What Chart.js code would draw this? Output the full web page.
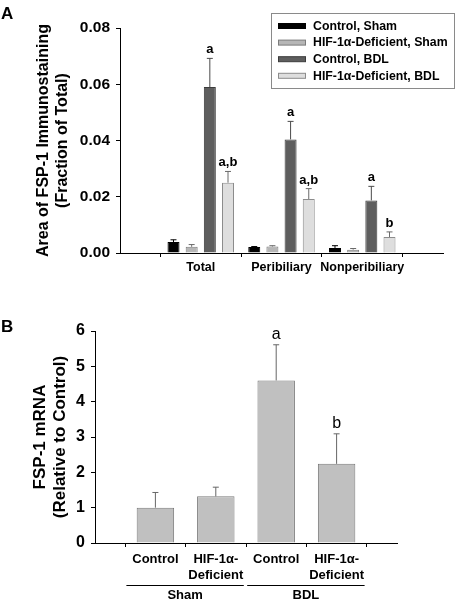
<!DOCTYPE html>
<html lang="en">
<head>
<meta charset="UTF-8">
<title>FSP-1</title>
<style>
  body { margin: 0; background: #fff; }
  .painel { position: absolute; left: 0; }
</style>
</head>
<body>
<canvas id="graficoA" class="painel" style="top:0" width="456" height="300"></canvas>
<canvas id="graficoB" class="painel" style="top:300px" width="456" height="300"></canvas>

<script src="https://cdn.jsdelivr.net/npm/chart.js"></script>
<script>
// ---- panel A data ----
const regions = ['Total', 'Peribiliary', 'Nonperibiliary']
const seriesNames = ['Control, Sham', 'HIF-1α-Deficient, Sham', 'Control, BDL', 'HIF-1α-Deficient, BDL']
const controlSham = [0.0039, 0.0021, 0.0018]
const controlShamErr = [0.0008, 0.0002, 0.0008]
const hifSham = [0.0022, 0.0023, 0.0012]
const hifShamErr = [0.0008, 0.0003, 0.0004]
const controlBdl = [0.059, 0.0404, 0.0187]
const controlBdlErr = [0.0102, 0.0064, 0.005]
const hifBdl = [0.025, 0.0192, 0.0057]
const hifBdlErr = [0.004, 0.0037, 0.0018]
const lettersControlBdl = ['a', 'a', 'a']
const lettersHifBdl = ['a,b', 'a,b', 'b']
const ticksA = [0, 0.02, 0.04, 0.06, 0.08]

// ---- panel B data ----
const groupsB = ['Control', ['HIF-1α-', 'Deficient'], 'Control', ['HIF-1α-', 'Deficient']]
const treatments = ['Sham', 'BDL']
const mrna = [1.0, 1.32, 4.6, 2.24]
const mrnaErr = [0.43, 0.26, 1.01, 0.85]
const lettersB = ['', '', 'a', 'b']
const ticksB = [0, 1, 2, 3, 4, 5, 6]

Chart.defaults.font.family = "'Liberation Sans', Arial, sans-serif"
Chart.defaults.color = '#000'

// empty slot at each end of the category axis
const pad = arr => [null, ...arr, null]

const errorBars = {
  id: 'errorBars',
  afterDatasetsDraw(chart) {
    const ctx = chart.ctx
    const y = chart.scales.y
    chart.data.datasets.forEach((ds, i) => {
      const meta = chart.getDatasetMeta(i)
      meta.data.forEach((bar, j) => {
        const v = ds.data[j]
        if (v === null) return
        const top = y.getPixelForValue(v + ds.err[j])
        ctx.save()
        ctx.strokeStyle = ds.errColor
        ctx.lineWidth = 1
        ctx.beginPath()
        ctx.moveTo(bar.x, bar.y)
        ctx.lineTo(bar.x, top)
        ctx.moveTo(bar.x - 3, top)
        ctx.lineTo(bar.x + 3, top)
        ctx.stroke()
        const txt = ds.letters ? ds.letters[j] : ''
        if (txt) {
          ctx.fillStyle = '#000'
          ctx.font = ds.letterFont
          ctx.textAlign = 'center'
          ctx.textBaseline = 'alphabetic'
          ctx.fillText(txt, bar.x, top - ds.letterGap)
        }
        ctx.restore()
      })
    })
  }
}

const legendA = {
  id: 'legendA',
  afterDraw(chart) {
    const ctx = chart.ctx
    ctx.save()
    ctx.strokeStyle = '#8a8a8a'
    ctx.lineWidth = 1
    ctx.strokeRect(271.5, 13.5, 183, 75)
    ctx.font = "bold 12.3px 'Liberation Sans', Arial, sans-serif"
    ctx.textBaseline = 'middle'
    chart.data.datasets.forEach((ds, i) => {
      const ry = 26 + i * 16.6
      ctx.fillStyle = ds.backgroundColor
      ctx.fillRect(278, ry - 2.5, 28, 5)
      ctx.strokeStyle = ds.borderColor
      ctx.strokeRect(278.5, ry - 2.5, 27, 5)
      ctx.fillStyle = '#000'
      ctx.fillText(ds.label, 313, ry + 0.5)
    })
    ctx.restore()
  }
}

const fontA = size => ({ size: size, weight: 'bold' })

new Chart(document.getElementById('graficoA'), {
  type: 'bar',
  data: {
    labels: pad(regions),
    datasets: [
      { label: seriesNames[0], data: pad(controlSham), err: pad(controlShamErr), backgroundColor: '#000000', borderColor: '#000000', errColor: '#000' },
      { label: seriesNames[1], data: pad(hifSham), err: pad(hifShamErr), backgroundColor: '#b6b6b6', borderColor: '#7c7c7c', errColor: '#6a6a6a' },
      { label: seriesNames[2], data: pad(controlBdl), err: pad(controlBdlErr), backgroundColor: '#5e5e5e', borderColor: '#3c3c3c', errColor: '#4a4a4a', letters: pad(lettersControlBdl), letterFont: "bold 13px 'Liberation Sans', Arial, sans-serif", letterGap: 5 },
      { label: seriesNames[3], data: pad(hifBdl), err: pad(hifBdlErr), backgroundColor: '#dedede', borderColor: '#8c8c8c', errColor: '#6a6a6a', letters: pad(lettersHifBdl), letterFont: "bold 13px 'Liberation Sans', Arial, sans-serif", letterGap: 5 }
    ]
  },
  options: {
    responsive: false,
    animation: false,
    layout: { padding: { top: 28, right: 13, left: 0, bottom: 0 } },
    datasets: { bar: { categoryPercentage: 0.9, barPercentage: 0.66, borderWidth: 1 } },
    plugins: { legend: { display: false }, tooltip: { enabled: false } },
    scales: {
      x: {
        offset: false,
        grid: { drawOnChartArea: false, tickLength: 4, color: '#000' },
        border: { color: '#000' },
        ticks: { font: fontA(12.5), padding: 3, autoSkip: false, maxRotation: 0 },
        afterFit: s => { s.height = 47 }
      },
      y: {
        min: 0,
        max: 0.08,
        afterBuildTicks: s => { s.ticks = ticksA.map(v => ({ value: v })) },
        grid: { drawOnChartArea: false, tickLength: 4, color: '#000' },
        border: { color: '#000' },
        ticks: { font: fontA(15.5), padding: 6, callback: v => v.toFixed(2) },
        title: {
          display: true,
          text: ['Area of FSP-1 Immunostaining', '(Fraction of Total)'],
          font: { size: 16, weight: 'bold', lineHeight: 1.13 },
          padding: { top: 35 }
        },
        afterFit: s => { s.width = 120 }
      }
    }
  },
  plugins: [errorBars, legendA, {
    id: 'panelA',
    afterDraw(chart) {
      const ctx = chart.ctx
      ctx.save()
      ctx.font = "bold 17px 'Liberation Sans', Arial, sans-serif"
      ctx.fillStyle = '#000'
      ctx.textBaseline = 'alphabetic'
      ctx.fillText('A', 1, 19)
      ctx.restore()
    }
  }]
})

const groupLabels = {
  id: 'groupLabels',
  afterDraw(chart) {
    const ctx = chart.ctx
    const x = chart.scales.x
    ctx.save()
    ctx.font = "bold 13px 'Liberation Sans', Arial, sans-serif"
    ctx.fillStyle = '#000'
    ctx.strokeStyle = '#000'
    ctx.lineWidth = 1
    ctx.textAlign = 'center'
    ctx.textBaseline = 'alphabetic'
    treatments.forEach((t, i) => {
      const a = x.getPixelForValue(1 + i * 2) - 29
      const b = x.getPixelForValue(2 + i * 2) + 28
      ctx.beginPath()
      ctx.moveTo(a, 285.5)
      ctx.lineTo(b, 285.5)
      ctx.stroke()
      ctx.fillText(t, (a + b) / 2, 299)
    })
    ctx.font = "bold 17px 'Liberation Sans', Arial, sans-serif"
    ctx.textAlign = 'left'
    ctx.fillText('B', 1, 32)
    ctx.restore()
  }
}

new Chart(document.getElementById('graficoB'), {
  type: 'bar',
  data: {
    labels: pad(groupsB),
    datasets: [
      { label: 'FSP-1 mRNA', data: pad(mrna), err: pad(mrnaErr), backgroundColor: '#c0c0c0', borderColor: '#7a7a7a', errColor: '#666', letters: pad(lettersB), letterFont: "16px 'Liberation Sans', Arial, sans-serif", letterGap: 6 }
    ]
  },
  options: {
    responsive: false,
    animation: false,
    layout: { padding: { top: 31, right: 59, left: 0, bottom: 0 } },
    datasets: { bar: { categoryPercentage: 1, barPercentage: 0.62, borderWidth: 1 } },
    plugins: { legend: { display: false }, tooltip: { enabled: false } },
    scales: {
      x: {
        offset: false,
        grid: { drawOnChartArea: false, tickLength: 4, color: '#000' },
        border: { color: '#000' },
        ticks: { font: { size: 13, weight: 'bold', lineHeight: 1.23 }, padding: 4, autoSkip: false, maxRotation: 0 },
        afterFit: s => { s.height = 57 }
      },
      y: {
        min: 0,
        max: 6,
        afterBuildTicks: s => { s.ticks = ticksB.map(v => ({ value: v })) },
        grid: { drawOnChartArea: false, tickLength: 4, color: '#000' },
        border: { color: '#000' },
        ticks: { font: fontA(16), padding: 6 },
        title: {
          display: true,
          text: ['FSP-1 mRNA', '(Relative to Control)'],
          font: { size: 17, weight: 'bold', lineHeight: 1.18 },
          padding: { top: 30 }
        },
        afterFit: s => { s.width = 95 }
      }
    }
  },
  plugins: [errorBars, groupLabels]
})
</script>
</body>
</html>
